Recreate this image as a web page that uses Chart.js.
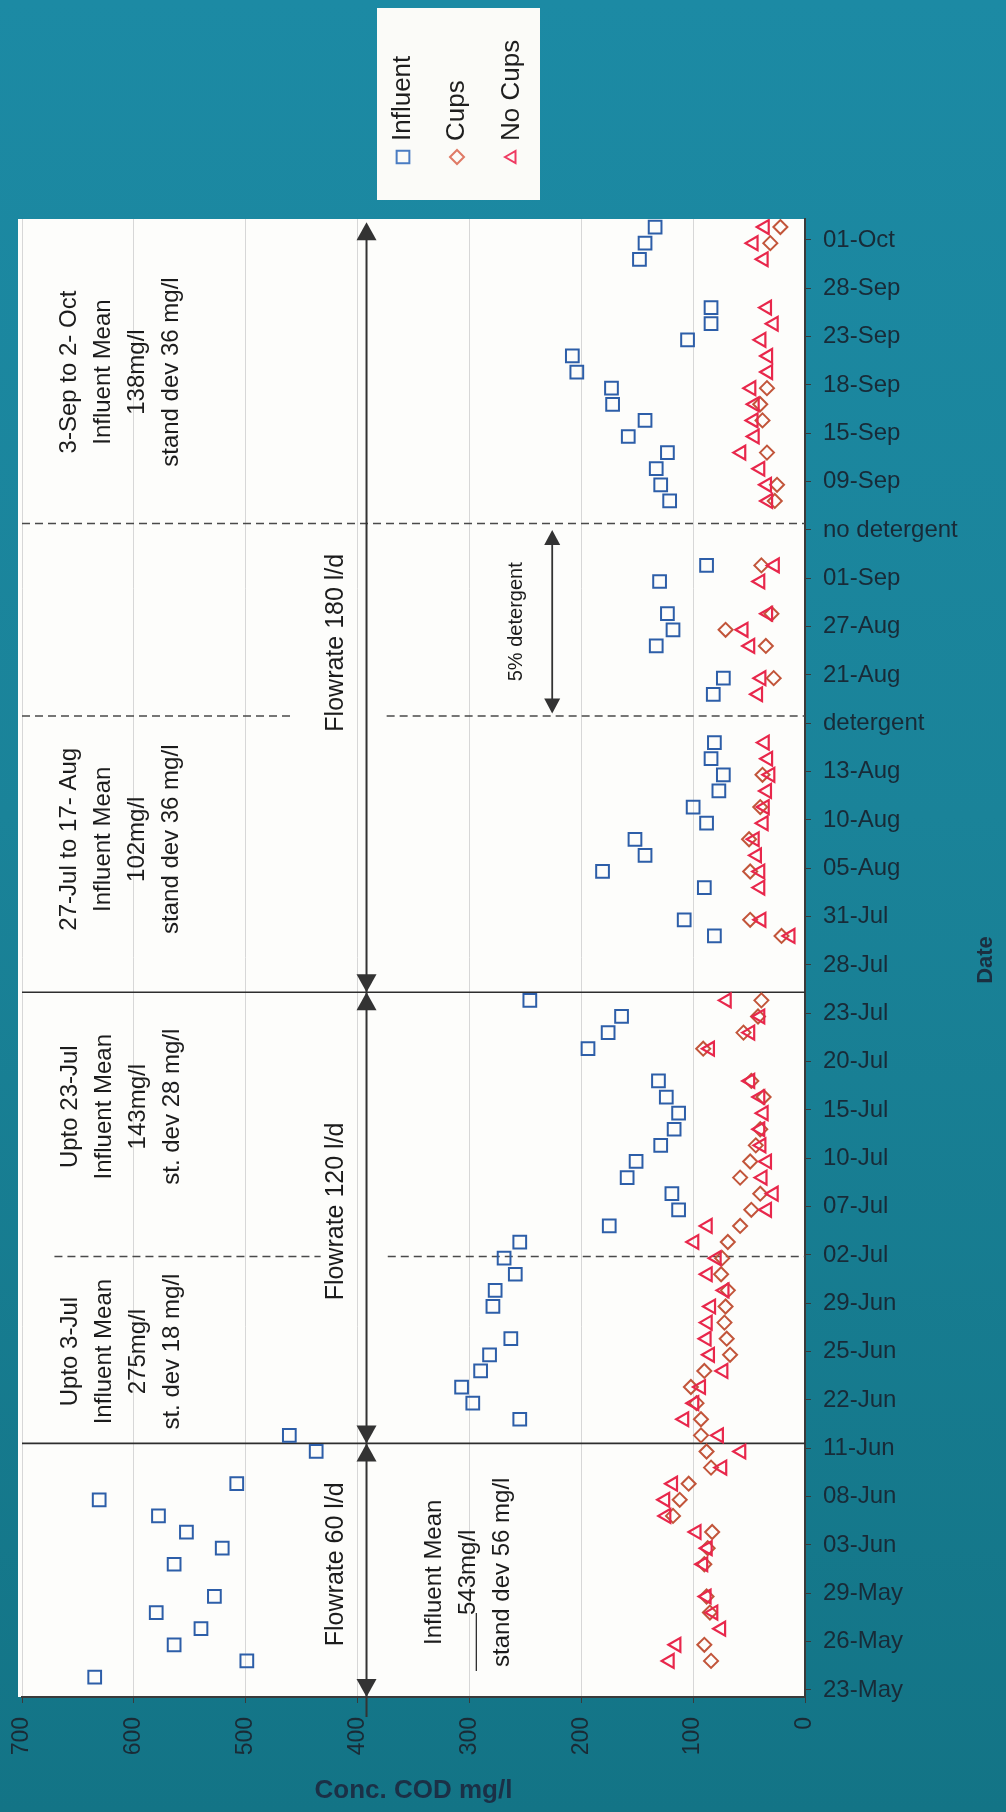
<!DOCTYPE html>
<html>
<head>
<meta charset="utf-8">
<title>COD concentration</title>
<script src="https://cdn.jsdelivr.net/npm/chart.js@4.4.0/dist/chart.umd.min.js"></script>
<style>
  html, body { margin: 0; padding: 0; }
  body {
    width: 1006px; height: 1812px; overflow: hidden;
    background: linear-gradient(180deg, #1c8aa4 0%, #1a8399 45%, #137486 100%);
  }
  #wrap { position: relative; width: 1006px; height: 1812px; }
</style>
</head>
<body>
<div id="wrap"><canvas id="codChart" width="1006" height="1812"></canvas></div>
<script>
// date categories, one label every 3 rows of the sheet
const dateLabels = ['23-May', '26-May', '29-May', '03-Jun', '08-Jun', '11-Jun', '22-Jun', '25-Jun',
    '29-Jun', '02-Jul', '07-Jul', '10-Jul', '15-Jul', '20-Jul', '23-Jul', '28-Jul', '31-Jul',
    '05-Aug', '10-Aug', '13-Aug', 'detergent', '21-Aug', '27-Aug', '01-Sep', 'no detergent',
    '09-Sep', '15-Sep', '18-Sep', '23-Sep', '28-Sep', '01-Oct'];
const rowsPerLabel = 3;

// Influent
const influentRows = [0, 1, 2, 3, 4, 5, 7, 8, 9, 10, 11, 12, 14, 15, 16, 17, 18, 19, 20, 21,
    23, 24, 25, 26, 27, 28, 29, 30, 31, 32, 33, 34, 35, 36, 37, 39, 40, 41, 42, 46, 47,
    49, 50, 51, 52, 53, 54, 55, 56, 57, 58, 61, 62, 64, 65, 66, 68, 69,
    73, 74, 75, 76, 77, 78, 79, 80, 81, 82, 83, 84, 85, 88, 89, 90];
const influentCod = [635, 499, 564, 540, 580, 528, 564, 521, 553, 578, 631, 508, 437, 461, 255, 297, 307, 290, 282, 263,
    279, 277, 259, 269, 255, 175, 113, 119, 159, 151, 129, 117, 113, 124, 131, 194, 176, 164, 246, 81, 108,
    90, 181, 143, 152, 88, 100, 77, 73, 84, 81, 82, 73, 133, 118, 123, 130, 88,
    121, 129, 133, 123, 158, 143, 172, 173, 204, 208, 105, 84, 84, 148, 143, 134];

// Cups
const cupsRows = [1, 2, 4, 5, 7, 8, 9, 10, 11, 12, 13, 14, 15, 16, 17, 18, 19, 20, 21, 22,
    23, 24, 25, 26, 27, 28, 29, 30, 31, 32, 33, 34, 36, 37, 39, 40, 41, 42, 46, 47,
    50, 52, 54, 56, 62, 64, 65, 66, 69, 73, 74, 76, 78, 79, 80, 89, 90];
const cupsCod = [84, 90, 85, 88, 90, 87, 83, 118, 112, 104, 84, 88, 93, 93, 97, 102, 90, 67, 70, 72,
    71, 69, 75, 74, 69, 58, 48, 40, 58, 49, 44, 40, 37, 48, 91, 55, 42, 39, 21, 49,
    49, 50, 40, 38, 28, 35, 71, 30, 39, 27, 25, 34, 38, 40, 34, 31, 22];

// No Cups
const noCupsRows = [1, 2, 3, 4, 5, 7, 8, 9, 10, 11, 12, 13, 14, 15, 16, 17, 18, 19, 20, 21, 22,
    23, 24, 25, 26, 27, 28, 29, 30, 31, 32, 33, 34, 35, 36, 37, 39, 40, 41, 42, 46, 47,
    49, 50, 51, 52, 53, 54, 55, 56, 57, 58, 61, 62, 64, 65, 66, 68, 69,
    73, 74, 75, 76, 77, 78, 79, 80, 81, 82, 83, 84, 85, 88, 89, 90];
const noCupsCod = [121, 115, 75, 82, 88, 91, 87, 97, 124, 125, 118, 74, 57, 77, 108, 99, 93, 73, 85, 88, 87,
    84, 72, 87, 79, 99, 87, 34, 28, 38, 34, 39, 40, 37, 40, 49, 85, 49, 40, 70, 13, 39,
    40, 40, 43, 45, 37, 36, 34, 31, 33, 36, 42, 39, 49, 55, 33, 40, 27,
    33, 34, 40, 57, 45, 46, 45, 48, 33, 33, 39, 28, 34, 37, 46, 36];

// notes written on the chart (cod, row)
const periodNotes = [
    { lines: ['3-Sep to 2- Oct', 'Influent Mean', '138mg/l', 'stand dev 36 mg/l'], cod: 612, row: 81.0 },
    { lines: ['27-Jul to 17- Aug', 'Influent Mean', '102mg/l', 'stand dev 36 mg/l'], cod: 612, row: 52.0 },
    { lines: ['Upto 23-Jul', 'Influent Mean', '143mg/l', 'st. dev 28 mg/l'], cod: 611, row: 35.4 },
    { lines: ['Upto 3-Jul', 'Influent Mean', '275mg/l', 'st. dev 18 mg/l'], cod: 611, row: 20.2 },
    { lines: ['Influent Mean', '543mg/l', 'stand dev 56 mg/l'], cod: 301, row: 6.5, rule: 1 }
];
const flowNotes = [
    { text: 'Flowrate 60 l/d', row: 7.0 },
    { text: 'Flowrate 120 l/d', row: 28.9 },
    { text: 'Flowrate 180 l/d', row: 64.2 }
];
const flowArrowCod = 392;
const flowBreaks = [-1.24, 14.5, 42.5, 90.3];
const sectionLines = [
    { row: 14.5, parts: [[700, 0]], dashed: false },
    { row: 26.1, parts: [[671, 433], [373, 0]], dashed: true },
    { row: 42.5, parts: [[700, 0]], dashed: false },
    { row: 59.65, parts: [[700, 460], [374, 0]], dashed: true },
    { row: 71.6, parts: [[700, 0]], dashed: true }
];
const detergentArrow = { cod: 226, from: 59.8, to: 71.2, text: '5% detergent', textCod: 258, textRow: 65.5 };

const FONT = "'Liberation Sans', Arial, sans-serif";
const blue = '#2d5ea8';
const orange = '#c2553a';
const red = '#e8274b';

function toPoints(rows, vals) {
    return rows.map((r, i) => ({ x: vals[i], y: r }));
}

function marker(ctx, style, x, y, r, color) {
    ctx.save();
    ctx.strokeStyle = color;
    ctx.lineWidth = 2;
    ctx.beginPath();
    if (style === 'rect') {
        const s = r * Math.SQRT1_2;
        ctx.rect(x - s, y - s, 2 * s, 2 * s);
    } else if (style === 'rectRot') {
        ctx.moveTo(x - r, y); ctx.lineTo(x, y - r); ctx.lineTo(x + r, y); ctx.lineTo(x, y + r);
        ctx.closePath();
    } else {
        ctx.moveTo(x - r, y); ctx.lineTo(x + r * 0.5, y - r * 0.866); ctx.lineTo(x + r * 0.5, y + r * 0.866);
        ctx.closePath();
    }
    ctx.stroke();
    ctx.restore();
}

// text reading bottom-to-top, lines stacked left to right
function upText(ctx, lines, px, py, spacing, ruleLine) {
    ctx.save();
    ctx.translate(px, py);
    ctx.rotate(-Math.PI / 2);
    ctx.textAlign = 'center';
    ctx.textBaseline = 'middle';
    lines.forEach((t, i) => {
        const off = (i - (lines.length - 1) / 2) * spacing;
        ctx.fillText(t, 0, off);
        if (ruleLine === i) {
            const w = ctx.measureText(t).width;
            ctx.strokeStyle = ctx.fillStyle;
            ctx.lineWidth = 1.2;
            ctx.beginPath();
            ctx.moveTo(-w / 2 - 56, off + 8);
            ctx.lineTo(-w / 2 + 2, off + 8);
            ctx.stroke();
        }
    });
    ctx.restore();
}

function arrowHead(ctx, x, tipY, dir, w, len) {
    // dir = -1 points up, +1 points down
    ctx.beginPath();
    ctx.moveTo(x, tipY);
    ctx.lineTo(x - w / 2, tipY - dir * len);
    ctx.lineTo(x + w / 2, tipY - dir * len);
    ctx.closePath();
    ctx.fill();
}

const plotBg = {
    id: 'plotBg',
    beforeDraw(chart) {
        const { ctx, chartArea: a } = chart;
        ctx.save();
        ctx.fillStyle = '#fdfdfb';
        ctx.fillRect(a.left - 4, a.top, a.right - a.left + 4, a.bottom - a.top);
        ctx.restore();
    }
};

const notes = {
    id: 'notes',
    beforeDatasetsDraw(chart) {
        const { ctx, scales: { x, y }, chartArea: a } = chart;
        ctx.save();
        // section lines
        sectionLines.forEach(l => {
            ctx.strokeStyle = l.dashed ? '#4a4a4a' : '#2e2e2e';
            ctx.lineWidth = 1.6;
            ctx.setLineDash(l.dashed ? [8, 5] : []);
            const py = y.getPixelForValue(l.row);
            l.parts.forEach(p => {
                ctx.beginPath();
                ctx.moveTo(x.getPixelForValue(p[0]), py);
                ctx.lineTo(x.getPixelForValue(p[1]), py);
                ctx.stroke();
            });
        });
        ctx.setLineDash([]);

        // flowrate arrows
        const ax = x.getPixelForValue(flowArrowCod);
        ctx.strokeStyle = '#333';
        ctx.fillStyle = '#333';
        ctx.lineWidth = 2;
        ctx.beginPath();
        ctx.moveTo(ax, y.getPixelForValue(flowBreaks[flowBreaks.length - 1]) + 4);
        ctx.lineTo(ax, a.bottom + 20);
        ctx.stroke();
        for (let i = 0; i < flowBreaks.length - 1; i++) {
            arrowHead(ctx, ax, y.getPixelForValue(flowBreaks[i]), 1, 20, 18);
            arrowHead(ctx, ax, y.getPixelForValue(flowBreaks[i + 1]), -1, 20, 18);
        }

        // detergent arrow
        const dx = x.getPixelForValue(detergentArrow.cod);
        const dTop = y.getPixelForValue(detergentArrow.to);
        const dBot = y.getPixelForValue(detergentArrow.from);
        ctx.lineWidth = 1.8;
        ctx.beginPath();
        ctx.moveTo(dx, dTop + 6);
        ctx.lineTo(dx, dBot - 6);
        ctx.stroke();
        arrowHead(ctx, dx, dTop, -1, 16, 15);
        arrowHead(ctx, dx, dBot, 1, 16, 15);

        // texts
        ctx.fillStyle = '#1c1c1c';
        ctx.font = '24px ' + FONT;
        periodNotes.forEach(n => {
            upText(ctx, n.lines, x.getPixelForValue(n.cod), y.getPixelForValue(n.row), 34, n.rule);
        });
        ctx.font = '25px ' + FONT;
        flowNotes.forEach(n => {
            upText(ctx, [n.text], x.getPixelForValue(419), y.getPixelForValue(n.row), 0);
        });
        ctx.font = '20px ' + FONT;
        upText(ctx, [detergentArrow.text], x.getPixelForValue(detergentArrow.textCod),
            y.getPixelForValue(detergentArrow.textRow), 0);
        ctx.restore();
    }
};

const sideLegend = {
    id: 'sideLegend',
    afterDraw(chart) {
        const { ctx } = chart;
        ctx.save();
        ctx.fillStyle = '#fbfbf8';
        ctx.fillRect(377, 8, 163, 192);
        const items = chart.data.datasets;
        const xs = [403, 457, 512];
        const legendColors = ['#4a7cc2', '#df7a66', '#ef3a62'];
        items.forEach((d, i) => {
            marker(ctx, d.pointStyle, xs[i], 157, d.pointStyle === 'rect' ? 9 : 7, legendColors[i]);
            ctx.fillStyle = '#1e1e1e';
            ctx.font = '26px ' + FONT;
            ctx.save();
            ctx.translate(xs[i], 141);
            ctx.rotate(-Math.PI / 2);
            ctx.textAlign = 'left';
            ctx.textBaseline = 'middle';
            ctx.fillText(d.label, 0, 0);
            ctx.restore();
        });
        // right axis title
        ctx.fillStyle = '#1b2f40';
        ctx.font = 'bold 22px ' + FONT;
        upText(ctx, ['Date'], 986, 960, 0);
        ctx.restore();
    }
};

const ctx = document.getElementById('codChart').getContext('2d');
new Chart(ctx, {
    type: 'scatter',
    data: {
        datasets: [
            {
                label: 'Influent', data: toPoints(influentRows, influentCod),
                pointStyle: 'rect', pointRadius: 9, pointBorderWidth: 2,
                pointBorderColor: blue, pointBackgroundColor: 'rgba(0,0,0,0)', order: 2
            },
            {
                label: 'Cups', data: toPoints(cupsRows, cupsCod),
                pointStyle: 'rectRot', pointRadius: 7, pointBorderWidth: 2,
                pointBorderColor: orange, pointBackgroundColor: 'rgba(0,0,0,0)', order: 1
            },
            {
                label: 'No Cups', data: toPoints(noCupsRows, noCupsCod),
                pointStyle: 'triangle', pointRadius: 8, pointRotation: -90, pointBorderWidth: 2.2,
                pointBorderColor: red, pointBackgroundColor: 'rgba(0,0,0,0)', order: 0
            }
        ]
    },
    options: {
        responsive: false,
        animation: false,
        devicePixelRatio: 1,
        layout: { padding: { left: 22, top: 219, right: 0, bottom: 0 } },
        plugins: { legend: { display: false }, tooltip: { enabled: false } },
        scales: {
            x: {
                type: 'linear', reverse: true, min: 0, max: 700,
                ticks: {
                    stepSize: 100, minRotation: 90, maxRotation: 90, padding: 14,
                    color: '#1a2b36', font: { family: FONT, size: 23 }
                },
                grid: { color: '#d7d7d7', lineWidth: 1, tickLength: 6, tickColor: '#3a3a3a' },
                border: { color: '#3a3a3a', width: 2 },
                title: {
                    display: true, text: 'Conc. COD mg/l', color: '#1b3046',
                    font: { family: FONT, size: 26, weight: 'bold' }, padding: { top: 0, bottom: 6 }
                },
                afterFit: s => { s.height = 115; }
            },
            y: {
                type: 'linear', position: 'right', min: -1.24, max: 90.5,
                afterBuildTicks: s => {
                    s.ticks = dateLabels.map((_, i) => ({ value: i * rowsPerLabel - 0.8 }));
                },
                ticks: {
                    autoSkip: false, padding: 12, color: '#182b38',
                    font: { family: FONT, size: 24 },
                    callback: (v, i) => dateLabels[i]
                },
                grid: { drawOnChartArea: false, drawTicks: true, tickLength: 6, tickColor: '#3a3a3a' },
                border: { color: '#3a3a3a', width: 2 },
                afterFit: s => { s.width = 201; }
            }
        }
    },
    plugins: [plotBg, notes, sideLegend]
});
</script>
</body>
</html>
